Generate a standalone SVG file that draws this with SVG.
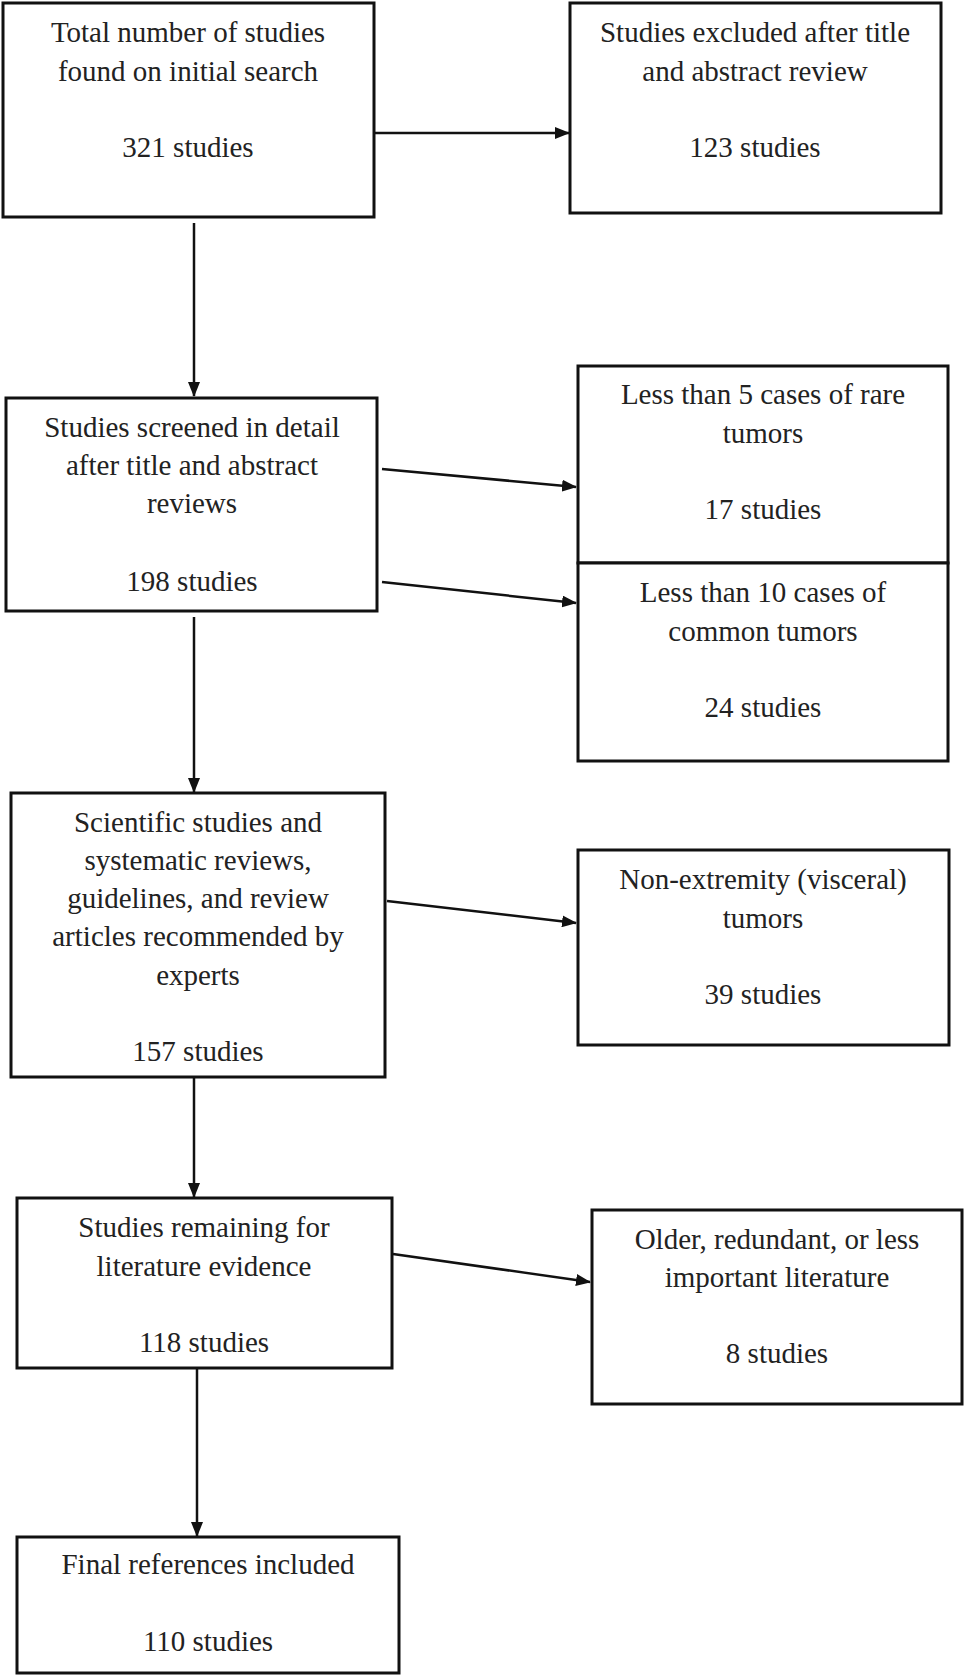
<svg xmlns="http://www.w3.org/2000/svg" width="966" height="1677" viewBox="0 0 966 1677">
<style>
.box{fill:#fff;stroke:#111;stroke-width:3}
.t{font-family:"Liberation Serif","Times New Roman",serif;font-size:29px;fill:#222;text-anchor:middle}
.c{stroke:#111;stroke-width:2.5;fill:none;marker-end:url(#ah)}
</style>
<defs>
<marker id="ah" markerUnits="userSpaceOnUse" markerWidth="15" markerHeight="12" refX="14" refY="6" orient="auto">
<path d="M0,0 L15,6 L0,12 z" fill="#111"/>
</marker>
</defs>
<rect width="966" height="1677" fill="#fff"/>
<g id="connectors">
<line class="c" x1="374" y1="133" x2="569" y2="133"/>
<line class="c" x1="194" y1="223" x2="194" y2="396"/>
<line class="c" x1="382" y1="469" x2="576" y2="487"/>
<line class="c" x1="382" y1="582" x2="576" y2="603"/>
<line class="c" x1="194" y1="617" x2="194" y2="792"/>
<line class="c" x1="387" y1="901" x2="576" y2="923"/>
<line class="c" x1="194" y1="1077" x2="194" y2="1197"/>
<line class="c" x1="393" y1="1254" x2="590" y2="1282"/>
<line class="c" x1="197" y1="1369" x2="197" y2="1536"/>
</g>
<g id="n1">
<rect class="box" x="3" y="3" width="371" height="214"/>
<text class="t" x="188" y="42">Total number of studies</text>
<text class="t" x="188" y="81">found on initial search</text>
<text class="t" x="188" y="157">321 studies</text>
</g>
<g id="n2">
<rect class="box" x="570" y="3" width="371" height="210"/>
<text class="t" x="755" y="42">Studies excluded after title</text>
<text class="t" x="755" y="81">and abstract review</text>
<text class="t" x="755" y="157">123 studies</text>
</g>
<g id="n3">
<rect class="box" x="6" y="398" width="371" height="213"/>
<text class="t" x="192" y="437">Studies screened in detail</text>
<text class="t" x="192" y="475">after title and abstract</text>
<text class="t" x="192" y="513">reviews</text>
<text class="t" x="192" y="591">198 studies</text>
</g>
<g id="n4">
<rect class="box" x="578" y="366" width="370" height="197"/>
<text class="t" x="763" y="404">Less than 5 cases of rare</text>
<text class="t" x="763" y="443">tumors</text>
<text class="t" x="763" y="519">17 studies</text>
</g>
<g id="n5">
<rect class="box" x="578" y="563" width="370" height="198"/>
<text class="t" x="763" y="602">Less than 10 cases of</text>
<text class="t" x="763" y="641">common tumors</text>
<text class="t" x="763" y="717">24 studies</text>
</g>
<g id="n6">
<rect class="box" x="11" y="793" width="374" height="284"/>
<text class="t" x="198" y="832">Scientific studies and</text>
<text class="t" x="198" y="870">systematic reviews,</text>
<text class="t" x="198" y="908">guidelines, and review</text>
<text class="t" x="198" y="946">articles recommended by</text>
<text class="t" x="198" y="985">experts</text>
<text class="t" x="198" y="1061">157 studies</text>
</g>
<g id="n7">
<rect class="box" x="578" y="850" width="371" height="195"/>
<text class="t" x="763" y="889">Non-extremity (visceral)</text>
<text class="t" x="763" y="928">tumors</text>
<text class="t" x="763" y="1004">39 studies</text>
</g>
<g id="n8">
<rect class="box" x="17" y="1198" width="375" height="170"/>
<text class="t" x="204" y="1237">Studies remaining for</text>
<text class="t" x="204" y="1276">literature evidence</text>
<text class="t" x="204" y="1352">118 studies</text>
</g>
<g id="n9">
<rect class="box" x="592" y="1210" width="370" height="194"/>
<text class="t" x="777" y="1249">Older, redundant, or less</text>
<text class="t" x="777" y="1287">important literature</text>
<text class="t" x="777" y="1363">8 studies</text>
</g>
<g id="n10">
<rect class="box" x="17" y="1537" width="382" height="136"/>
<text class="t" x="208" y="1574">Final references included</text>
<text class="t" x="208" y="1651">110 studies</text>
</g>
</svg>
